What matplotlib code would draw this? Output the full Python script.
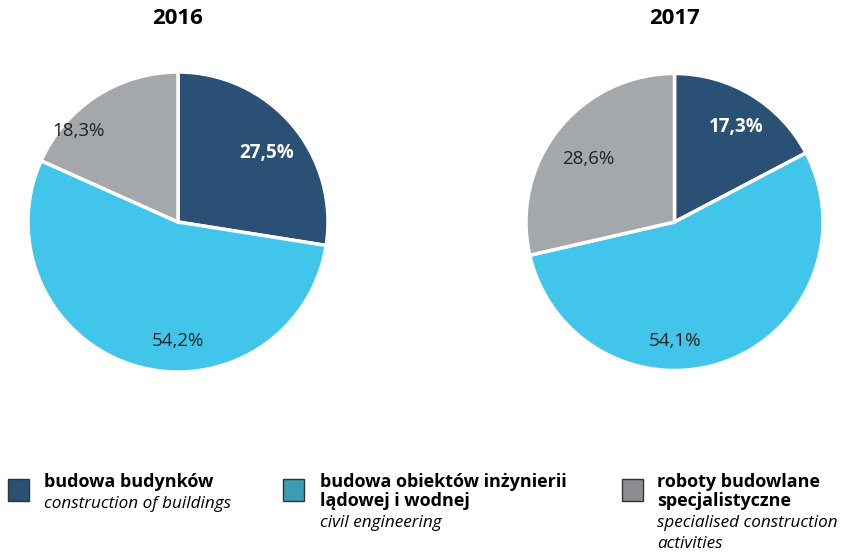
import numpy as np
import matplotlib.pyplot as plt
from matplotlib.patches import Rectangle

plt.rcParams['font.family'] = ['Open Sans', 'DejaVu Sans']

# data
years = ['2016', '2017']
shares_2016 = [27.5, 54.2, 18.3]
shares_2017 = [17.3, 54.1, 28.6]
pie_colors = ['#2a5075', '#41c5eb', '#a5a8ab']
legend_colors = ['#2a5075', '#3b9db5', '#8b8d91']
label_colors = ['white', '#222222', '#222222']
label_weights = ['bold', 'normal', 'normal']
names_pl = [['budowa budynków'],
            ['budowa obiektów inżynierii', 'lądowej i wodnej'],
            ['roboty budowlane', 'specjalistyczne']]
names_en = [['construction of buildings'],
            ['civil engineering'],
            ['specialised construction', 'activities']]

# where the percent labels sit (angle in degrees, fraction of radius)
label_pos = [[(38, 0.75), (-90, 0.79), (137.7, 0.9)],
             [(57, 0.76), (-90, 0.80), (144, 0.72)]]

fig = plt.figure(figsize=(8.46, 5.52), dpi=100)

# pie axes: [left, bottom, width, height] in figure fraction
ax_boxes = [[28 / 846, (552 - 372) / 552, 300 / 846, 300 / 552],
            [526 / 846, (552 - 371) / 552, 297 / 846, 298 / 552]]
title_x = [178, 675]

for k, (year, shares, box) in enumerate(zip(years, [shares_2016, shares_2017], ax_boxes)):
    ax = fig.add_axes(box)
    wedges, texts, autotexts = ax.pie(
        shares, colors=pie_colors, startangle=90, counterclock=False,
        autopct=lambda p: ('%.1f%%' % p).replace('.', ','),
        wedgeprops=dict(edgecolor='white', linewidth=2.5))
    for t, c, w, (ang, r) in zip(autotexts, label_colors, label_weights, label_pos[k]):
        t.set_color(c)
        t.set_fontweight(w)
        t.set_fontsize(13.5)
        t.set_position((r * np.cos(np.radians(ang)), r * np.sin(np.radians(ang))))
    ax.set_xlim(-1, 1)
    ax.set_ylim(-1, 1)
    ax.set_aspect('equal')
    fig.text(title_x[k] / 846, (552 - 18) / 552, year, fontsize=16,
             fontweight='bold', ha='center', va='center')

# legend at the bottom
sq_x = [8, 283, 622]
txt_x = [44, 320, 657]
for i in range(3):
    fig.add_artist(Rectangle((sq_x[i] / 846, (552 - 501) / 552), 21 / 846, 22 / 552,
                             transform=fig.transFigure, facecolor=legend_colors[i],
                             edgecolor='#333333', linewidth=1))
    base = 487
    for line in names_pl[i]:
        fig.text(txt_x[i] / 846, (552 - base) / 552, line, fontsize=13,
                 fontweight='bold', va='baseline', ha='left')
        base += 19
    base += 2
    for line in names_en[i]:
        fig.text(txt_x[i] / 846, (552 - base) / 552, line, fontsize=12.3,
                 style='italic', va='baseline', ha='left')
        base += 21

fig.savefig('out.png', dpi=100)
